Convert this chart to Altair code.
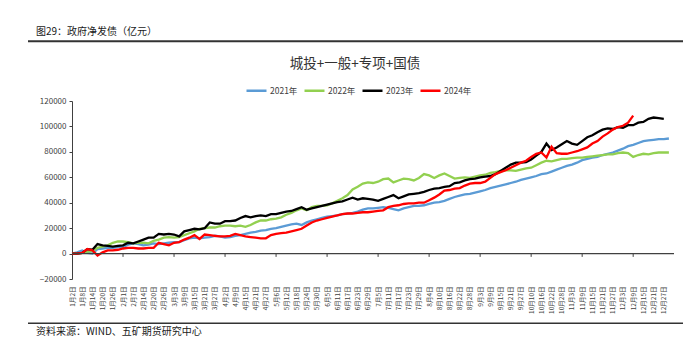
import json
import pandas as pd
import altair as alt

FONT = "Noto Sans CJK SC"

x_labels = [
    "1月2日", "1月8日", "1月14日", "1月20日", "1月26日",
    "2月1日", "2月7日", "2月14日", "2月20日", "2月26日",
    "3月3日", "3月9日", "3月15日", "3月21日", "3月27日",
    "4月2日", "4月9日", "4月15日", "4月21日", "4月27日",
    "5月6日", "5月12日", "5月18日", "5月24日", "5月30日",
    "6月5日", "6月11日", "6月17日", "6月23日", "6月29日",
    "7月5日", "7月11日", "7月17日", "7月23日", "7月29日",
    "8月4日", "8月10日", "8月16日", "8月22日", "8月28日",
    "9月3日", "9月9日", "9月15日", "9月21日", "9月27日",
    "10月10日", "10月16日", "10月22日", "10月28日",
    "11月3日", "11月9日", "11月15日", "11月21日", "11月27日",
    "12月3日", "12月9日", "12月15日", "12月21日", "12月27日",
]

series_names = ["2021年", "2022年", "2023年", "2024年"]
series_colors = ["#5B9BD5", "#92D050", "#000000", "#FF0000"]

# values sampled every half label step (3 trading days)
v2021 = [
    0, 1000, 2500, 500, 0, 3500, 4000, 4500, 4500, 5000,
    5000, 7000, 8000, 7500, 6500, 7000, 8000, 7500, 8000, 8500,
    9000, 9000, 10500, 12000, 12500, 12000, 12500, 13000, 14000, 13500,
    12500, 13000, 14000, 14500, 15500, 16500, 17000, 18000, 18500, 19500,
    20000, 21000, 22000, 23000, 23500, 22500, 24500, 26000, 27000, 28000,
    29000, 29500, 30000, 31000, 31500, 32000, 33000, 34500, 35500, 35500,
    36000, 36500, 36000, 35000, 34000, 35500, 36500, 37500, 37500, 38000,
    39000, 40000, 40500, 41500, 43000, 44500, 45500, 46500, 47000, 48000,
    49000, 50000, 51500, 52500, 53500, 54500, 55500, 56500, 58000, 59000,
    60000, 61000, 62500, 63000, 64500, 66000, 67500, 69000, 70000, 71500,
    73500, 74500, 75500, 76000, 77500, 78500, 79500, 81000, 82500, 84500,
    85500, 87000, 88500, 89000, 89500, 90000, 90000, 90500,
]
v2022 = [
    0, 0, 500, 1500, 2000, 4500, 5500, 6500, 8500, 9500,
    9500, 9000, 8000, 8500, 8500, 8000, 10000, 11000, 12500, 13000,
    12500, 13000, 14500, 16000, 17500, 19500, 20000, 20500, 20500, 21500,
    22000, 22000, 21500, 22000, 21000, 22500, 24500, 26000, 26000, 27000,
    27500, 28500, 30500, 32000, 34000, 35500, 34000, 36500, 37500, 37500,
    38000, 39500, 41500, 43500, 46000, 50500, 52500, 55000, 56000, 55500,
    56500, 58500, 59000, 56000, 57500, 59000, 58500, 57500, 59500, 62500,
    61500, 59500, 61500, 63000, 61000, 59000, 59500, 60000, 59500, 60500,
    61500, 62000, 63500, 64000, 65000, 65500, 65500, 65000, 66000, 67000,
    67500, 69500, 71500, 73000, 72500, 73500, 74500, 74500, 75000, 75500,
    75500, 76000, 76500, 77000, 77500, 78000, 78000, 79000, 79500, 79000,
    76000, 77500, 78500, 78000, 79000, 79500, 79500, 79500,
]
v2023 = [
    0, 0, 500, 3500, 3000, 7500, 6500, 6000, 5500, 6000,
    6500, 8500, 8000, 9500, 11000, 12500, 12500, 15500, 15000, 15500,
    15000, 13500, 17500, 18500, 19500, 19000, 20000, 24500, 23500, 23500,
    25500, 25500, 26000, 28000, 29500, 28500, 29500, 30000, 29500, 31000,
    31000, 32000, 33000, 33500, 35000, 36500, 34500, 35500, 36500, 37500,
    38500, 39500, 40500, 41000, 42500, 44000, 42500, 43500, 43000, 42500,
    41500, 43000, 44500, 46000, 43500, 45000, 46500, 47000, 47500, 48500,
    50000, 51000, 51500, 52500, 53000, 55500, 56000, 57500, 58500, 59000,
    60000, 60500, 61000, 62500, 65000, 67500, 70000, 71500, 71500, 72000,
    74000, 77000, 80000, 86500, 81500, 83500, 86000, 88500, 86500, 85500,
    88500, 91500, 93000, 95500, 97500, 98500, 98000, 99500, 99000, 101000,
    101000, 103000, 103500, 106000, 107000, 106500, 106000,
]
v2024 = [
    0, 0, 500, 3500, 2500, -1500, 1000, 2500, 2500, 3000,
    4000, 4500, 4500, 4000, 4000, 4500, 4500, 8500, 7500, 6500,
    8500, 9000, 11000, 12500, 14500, 11500, 15000, 14500, 14000, 13500,
    13500, 14000, 15500, 14500, 13500, 13000, 12500, 12000, 12000, 14500,
    15500, 16000, 16500, 17500, 18500, 19500, 22000, 24500, 26000, 27000,
    28000, 29000, 30000, 31000, 31500, 31500, 32000, 32500, 32500, 33000,
    33500, 34000, 36500, 37500, 38000, 39000, 39500, 39500, 40000, 40000,
    42000, 44000, 46500, 49500, 50000, 51000, 51500, 53500, 55000, 55500,
    55500, 56500, 59500, 62500, 64000, 65500, 67500, 69500, 71500, 73000,
    76000, 78500, 79500, 75500, 84000, 79000, 78500, 78500, 79500, 80500,
    82000, 83500, 86500, 88500, 92000, 94500, 97500, 99500, 100500, 103000,
    108500,
]

y_ticks = [-20000, 0, 20000, 40000, 60000, 80000, 100000, 120000]
zero_ticks = [5, 10, 15, 20, 25, 30, 35, 40, 45, 50, 55]

rows = []
for name, vals in zip(series_names, [v2021, v2022, v2023, v2024]):
    for i, v in enumerate(vals):
        rows.append({"k": i * 0.5, "v": v, "s": name})
df = pd.DataFrame(rows)

x_scale = alt.Scale(domain=[0, 59], nice=False, zero=False)
y_scale = alt.Scale(domain=[-20000, 120000], nice=False, zero=False)
label_expr = json.dumps(x_labels, ensure_ascii=False) + "[datum.value]"

x_axis = alt.Axis(
    values=list(range(len(x_labels))), labelExpr=label_expr, labelAngle=270,
    labelFontSize=6.5, labelFont=FONT, labelColor="#404040",
    labelOverlap=False, labelFlush=False, labelBound=False,
    ticks=False, domain=False, grid=False, title=None, labelPadding=7)
y_axis = alt.Axis(
    values=y_ticks, format="d", labelFontSize=8, labelFont=FONT,
    labelColor="#404040", tickSize=3, tickColor="#404040",
    domainColor="#404040", grid=False, title=None, labelPadding=3)

lines = alt.Chart(df).mark_line(strokeWidth=2.3).encode(
    x=alt.X("k:Q", scale=x_scale, axis=x_axis),
    y=alt.Y("v:Q", scale=y_scale, axis=y_axis),
    color=alt.Color("s:N", scale=alt.Scale(domain=series_names, range=series_colors),
                    legend=alt.Legend(orient="none", legendX=173, legendY=-22,
                                      direction="horizontal", title=None,
                                      symbolType="stroke", symbolSize=400,
                                      symbolStrokeWidth=2.5, labelFontSize=8.5,
                                      labelFont=FONT, labelColor="#404040",
                                      columnPadding=1, labelOffset=2)),
)

zero_line = alt.Chart(pd.DataFrame({"a": [0], "b": [59], "y": [0]})).mark_rule(
    color="#404040", strokeWidth=1.2).encode(
    x=alt.X("a:Q", scale=x_scale, axis=x_axis), x2="b:Q",
    y=alt.Y("y:Q", scale=y_scale, axis=y_axis))

tick_marks = alt.Chart(pd.DataFrame({"k": zero_ticks, "y0": 0, "y1": -2600})).mark_rule(
    color="#404040", strokeWidth=1).encode(
    x=alt.X("k:Q", scale=x_scale, axis=x_axis),
    y=alt.Y("y0:Q", scale=y_scale, axis=y_axis), y2="y1:Q")

one = pd.DataFrame({"t": [0]})
header = alt.Chart(one).mark_text(text="图29：政府净发债（亿元）", align="left", baseline="middle",
                                  font=FONT, fontSize=10, color="#1a1a1a").encode(
    x=alt.value(-36), y=alt.value(-68.7))
header_rule = alt.Chart(one).mark_rule(color="#333333", strokeWidth=2).encode(
    x=alt.value(-44), x2=alt.value(611), y=alt.value(-59.7))
title = alt.Chart(one).mark_text(text="城投+一般+专项+国债", align="center", baseline="middle",
                                 font=FONT, fontSize=13.5, color="#333333").encode(
    x=alt.value(283), y=alt.value(-37.4))
footer_rule = alt.Chart(one).mark_rule(color="#333333", strokeWidth=1.5).encode(
    x=alt.value(-44), x2=alt.value(611), y=alt.value(222.3))
footer = alt.Chart(one).mark_text(text="资料来源：WIND、五矿期货研究中心", align="left", baseline="middle",
                                  font=FONT, fontSize=10, color="#1a1a1a").encode(
    x=alt.value(-36), y=alt.value(231.3))

chart = alt.layer(lines, zero_line, tick_marks, header, header_rule, title, footer_rule, footer).properties(
    width=602, height=178,
    autosize=alt.AutoSizeParams(type="none"),
    padding={"left": 64, "top": 93, "right": 18, "bottom": 70},
    background="white",
).configure_view(stroke=None)

chart.save("out.html", embed_options={"renderer": "svg", "actions": False})
